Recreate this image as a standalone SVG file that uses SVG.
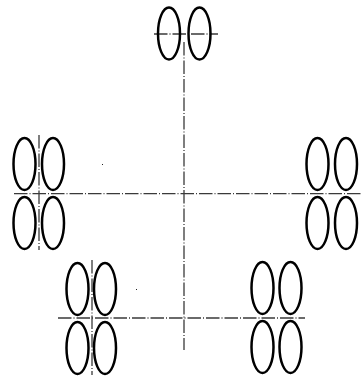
<svg xmlns="http://www.w3.org/2000/svg" width="362" height="378" viewBox="0 0 362 378">
<style>
.e{fill:none;stroke:#000;stroke-width:2.5}
.c{fill:none;stroke:#3a3a3a;stroke-width:1.3;stroke-dasharray:13.5 2 1 2}
.d{fill:#222}
</style>
<rect width="362" height="378" fill="#fff"/>
<g id="connectors">
<path class="c" d="M184 42V350"/>
<path class="c" d="M14 193.700H362"/>
<path class="c" d="M154 34H218"/>
<path class="c" d="M39 135V250"/>
<path class="c" d="M58 318H305"/>
<path class="c" d="M92 260V375"/>
</g>
<g id="top"><ellipse class="e" cx="169" cy="33.5" rx="11" ry="26"/><ellipse class="e" cx="199.500" cy="33.5" rx="11" ry="26"/></g>
<g id="left"><ellipse class="e" cx="24.500" cy="164" rx="11" ry="26"/><ellipse class="e" cx="53" cy="164" rx="11" ry="26"/><ellipse class="e" cx="24.500" cy="223" rx="11" ry="26"/><ellipse class="e" cx="53" cy="223" rx="11" ry="26"/></g>
<g id="right"><ellipse class="e" cx="317.500" cy="164" rx="11" ry="26"/><ellipse class="e" cx="346" cy="164" rx="11" ry="26"/><ellipse class="e" cx="317.500" cy="223" rx="11" ry="26"/><ellipse class="e" cx="346" cy="223" rx="11" ry="26"/></g>
<g id="bottom-left"><ellipse class="e" cx="77.500" cy="289" rx="11" ry="26"/><ellipse class="e" cx="105" cy="289" rx="11" ry="26"/><ellipse class="e" cx="77.500" cy="348" rx="11" ry="26"/><ellipse class="e" cx="105" cy="348" rx="11" ry="26"/></g>
<g id="bottom-right"><ellipse class="e" cx="262.500" cy="288" rx="11" ry="26"/><ellipse class="e" cx="290.500" cy="288" rx="11" ry="26"/><ellipse class="e" cx="262.500" cy="347" rx="11" ry="26"/><ellipse class="e" cx="290.500" cy="347" rx="11" ry="26"/></g>
<rect class="d" x="102" y="164" width="1" height="1"/>
<rect class="d" x="136" y="289" width="1" height="1"/>
</svg>
